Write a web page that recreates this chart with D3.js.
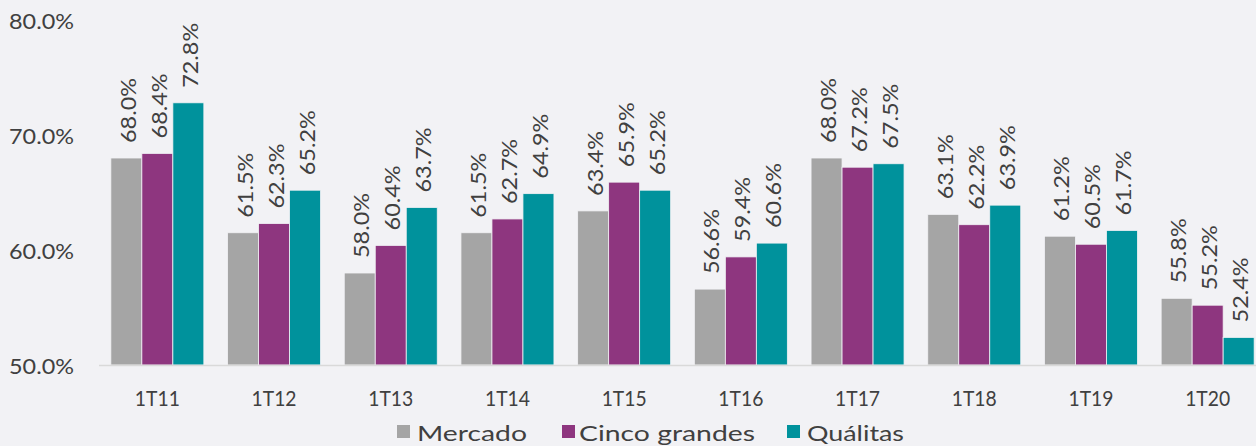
<!DOCTYPE html>
<html><head><meta charset="utf-8">
<script src="https://cdn.jsdelivr.net/npm/d3@7"></script>
<style>
html,body{margin:0;padding:0;background:#F2F2F5;}
svg{display:block;font-family:"Lato","Noto Sans",sans-serif;}
</style></head>
<body><svg id="c" width="1256" height="446"></svg>
<script>
const categories = ["1T11","1T12","1T13","1T14","1T15","1T16","1T17","1T18","1T19","1T20"];
const seriesNames = ["Mercado","Cinco grandes","Quálitas"];
const mercado = [68.0,61.5,58.0,61.5,63.4,56.6,68.0,63.1,61.2,55.8];
const cincoGrandes = [68.4,62.3,60.4,62.7,65.9,59.4,67.2,62.2,60.5,55.2];
const qualitas = [72.8,65.2,63.7,64.9,65.2,60.6,67.5,63.9,61.7,52.4];
const yTicks = [50,60,70,80];
const colors = ["#A5A5A5","#8E367F","#00929C"];

const series = [mercado, cincoGrandes, qualitas];
const svg = d3.select("#c");
const textColor = "#404040";

const y = d3.scaleLinear().domain([50,80]).range([365,20]);
const groupW = 93;
const xs = d3.scaleBand().domain(d3.range(3)).range([0,groupW]);
const band = 1167/10;
const xc = d3.scalePoint().domain(categories).range([99+band/2, 99+band*9.5]);

const g = svg.append("g");
series.forEach((vals,si)=>{
  g.selectAll(null).data(vals).enter().append("rect")
    .attr("x",(d,i)=>xc(categories[i]) - groupW/2 + xs(si))
    .attr("y",d=>y(d))
    .attr("width",xs.bandwidth())
    .attr("height",d=>y(50)-y(d))
    .attr("fill",colors[si])
    .attr("stroke","#F2F2F5").attr("stroke-width",0.8);
  g.selectAll(null).data(vals).enter().append("text")
    .attr("transform",(d,i)=>{
      const bx = xc(categories[i]) - groupW/2 + xs(si) + xs.bandwidth()/2 + 1;
      return `translate(${bx},${y(d)-15}) rotate(-90)`;
    })
    .attr("dominant-baseline","central")
    .attr("font-size",22).attr("fill",textColor)
    .attr("textLength",65).attr("lengthAdjust","spacingAndGlyphs")
    .text(d=>d.toFixed(1)+"%");
});

svg.append("line").attr("x1",99).attr("x2",1256).attr("y1",y(50)+0.5).attr("y2",y(50)+0.5)
  .attr("stroke","#D9D9D9").attr("stroke-width",1.5);

svg.selectAll(null).data(yTicks).enter().append("text")
  .attr("x",74).attr("y",d=>y(d)).attr("text-anchor","end").attr("dominant-baseline","central")
  .attr("font-size",22).attr("fill",textColor)
  .attr("textLength",65).attr("lengthAdjust","spacingAndGlyphs")
  .text(d=>d.toFixed(1)+"%");

svg.selectAll(null).data(categories).enter().append("text")
  .attr("x",d=>xc(d)).attr("y",397).attr("text-anchor","middle").attr("dominant-baseline","central")
  .attr("font-size",21).attr("fill",textColor)
  .attr("textLength",45).attr("lengthAdjust","spacingAndGlyphs")
  .text(d=>d);

const legX = [397,562,787];
const legTx = [417,579,807];
const legW = [110,176,97];
const leg = svg.append("g");
seriesNames.forEach((n,i)=>{
  leg.append("rect").attr("x",legX[i]).attr("y",425).attr("width",13).attr("height",13).attr("fill",colors[i]);
  leg.append("text").attr("x",legTx[i]).attr("y",432).attr("dominant-baseline","central")
    .attr("font-size",22).attr("fill",textColor)
    .attr("textLength",legW[i]).attr("lengthAdjust","spacingAndGlyphs").text(n);
});
</script></body></html>
